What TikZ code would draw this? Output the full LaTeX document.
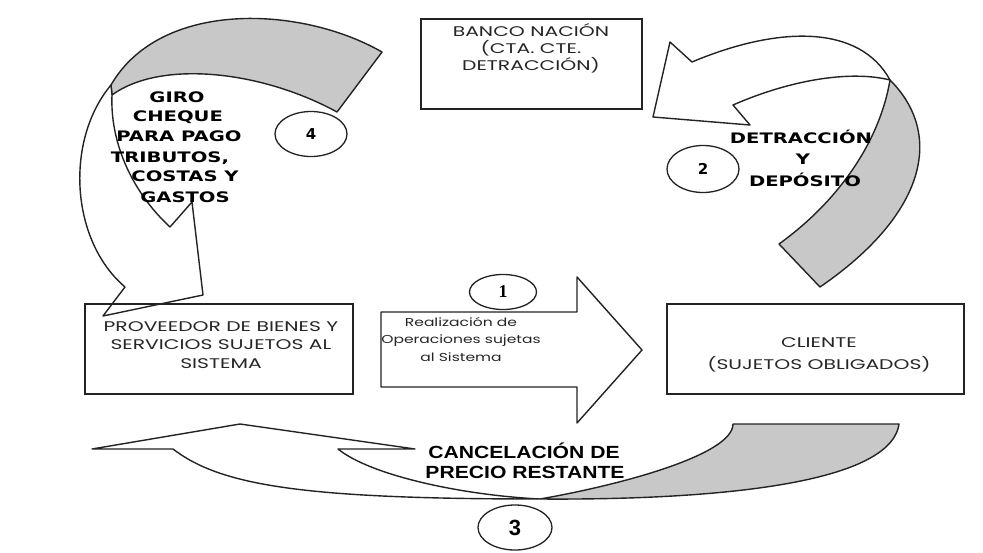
\documentclass[tikz,border=0pt]{standalone}
\usepackage{fontspec}
\usetikzlibrary{shapes.geometric}
\newfontfamily\boxfont[FakeStretch=1.45]{Poppins}
\newfontfamily\smallfont[FakeStretch=1.35]{Poppins}
\newfontfamily\arrowfont[FakeStretch=1.35]{DejaVu Sans}
\newfontfamily\numfont{DejaVu Sans}
\newfontfamily\cancfont[FakeStretch=1.2]{Liberation Sans}
\newfontfamily\onefont{Liberation Serif}
\newfontfamily\threefont{Liberation Sans}
\definecolor{linecol}{RGB}{35,35,35}
\definecolor{shade}{RGB}{200,200,200}
\tikzset{
  edge/.style={draw=linecol, line width=1.4pt, line join=round},
  front/.style={edge, fill=white},
  back/.style={edge, fill=shade},
  boxst/.style={draw=linecol, line width=1.4pt, inner sep=0pt},
  numst/.style={ellipse, draw=linecol, line width=1.3pt, fill=white, inner sep=0pt},
  boxtxt/.style={font=\boxfont\fontsize{14}{16}\selectfont, text=black!85, anchor=base, inner sep=0pt},
  smalltxt/.style={font=\smallfont\fontsize{11.5}{14}\selectfont, text=black!85, anchor=base, inner sep=0pt},
  arrowtxt/.style={font=\arrowfont\bfseries\fontsize{14.5}{16}\selectfont, anchor=base, inner sep=0pt},
  canctxt/.style={font=\cancfont\bfseries\fontsize{17.6}{19}\selectfont, anchor=base, inner sep=0pt}
}
\begin{document}
\begin{tikzpicture}[x=1pt,y=-1pt]
\fill[white] (0,0) rectangle (983,552);
\useasboundingbox (0,0) rectangle (983,552);

% arrow 4 (giro cheque)
\path[back] (382,52) .. controls (300,5) and (160,0) .. (111,85) -- (112,95)
  .. controls (160,60) and (260,70) .. (337,112) -- cycle;
\path[front] (111,85) .. controls (65,140) and (70,240) .. (125,287) -- (103,316)
  -- (203,295) -- (192,202) -- (170,227) .. controls (130,190) and (110,140) .. (112,95) -- cycle;

% arrow 2 (detraccion)
\path[front] (692,62) -- (670,42) -- (653,117) -- (750,125) -- (733,105)
  .. controls (790,80) and (850,70) .. (890,80)
  .. controls (860,25) and (780,25) .. (692,62) -- cycle;
\path[back] (890,80) .. controls (945,135) and (925,215) .. (820,287) -- (779,244)
  .. controls (840,200) and (880,140) .. (890,80) -- cycle;

% arrow 1 (realizacion)
\path[front] (381,312) -- (577,312) -- (577,277) -- (642,350) -- (577,423) -- (577,387) -- (381,387) -- cycle;

% arrow 3 (cancelacion)
\path[back] (733,424) -- (899,424) .. controls (890,490) and (680,500) .. (540,499)
  .. controls (620,485) and (733,455) .. (733,424) -- cycle;
\path[front] (540,499) .. controls (300,499) and (220,485) .. (173,449) -- (92,449) -- (240,424)
  -- (415,449) -- (338,449) .. controls (370,475) and (460,495) .. (540,499) -- cycle;

% boxes
\node[boxst, minimum width=221pt, minimum height=90pt] (banco) at (531.5,64) {};
\node[boxst, minimum width=268pt, minimum height=90pt] (prov) at (219,349) {};
\node[boxst, minimum width=297pt, minimum height=90pt] (cliente) at (815.5,349) {};

\node[boxtxt] (b1) at (531,36.7) {BANCO NACIÓN};
\node[boxtxt] (b2) at (531,53.3) {(CTA. CTE.};
\node[boxtxt] (b3) at (531,70) {DETRACCIÓN)};

\node[boxtxt] (p1) at (221,331) {PROVEEDOR DE BIENES Y};
\node[boxtxt] (p2) at (221,349) {SERVICIOS SUJETOS AL};
\node[boxtxt] (p3) at (221,368) {SISTEMA};

\node[boxtxt] (c1) at (819,347) {CLIENTE};
\node[boxtxt] (c2) at (819,369) {(SUJETOS OBLIGADOS)};

\node[smalltxt] (r1) at (461,326) {Realización de};
\node[smalltxt] (r2) at (461,343.5) {Operaciones sujetas};
\node[smalltxt] (r3) at (461,361) {al Sistema};

% arrow texts
\node[arrowtxt] (g1) at (177,102) {GIRO};
\node[arrowtxt] (g2) at (178,121) {CHEQUE};
\node[arrowtxt] (g3) at (179,141) {PARA PAGO};
\node[arrowtxt] (g4) at (170,162) {TRIBUTOS,};
\node[arrowtxt] (g5) at (185,181) {COSTAS Y};
\node[arrowtxt] (g6) at (185,202) {GASTOS};

\node[arrowtxt] (d1) at (801,143) {DETRACCIÓN};
\node[arrowtxt] (d2) at (803,164) {Y};
\node[arrowtxt] (d3) at (805,186) {DEPÓSITO};

\node[canctxt] (k1) at (524,458.3) {CANCELACIÓN DE};
\node[canctxt] (k2) at (525,478.3) {PRECIO RESTANTE};

% number ellipses
\node[numst, minimum width=67pt, minimum height=35pt] (n1) at (503,292) {\onefont\bfseries\fontsize{18}{18}\selectfont 1};
\node[numst, minimum width=72pt, minimum height=47pt] (n2) at (703,169) {\numfont\bfseries\fontsize{15}{15}\selectfont 2};
\node[numst, minimum width=74pt, minimum height=45pt] (n3) at (515,527.5) {\threefont\bfseries\fontsize{22}{22}\selectfont 3};
\node[numst, minimum width=72pt, minimum height=45pt] (n4) at (311,134) {\numfont\bfseries\fontsize{15}{15}\selectfont 4};
\end{tikzpicture}
\end{document}
